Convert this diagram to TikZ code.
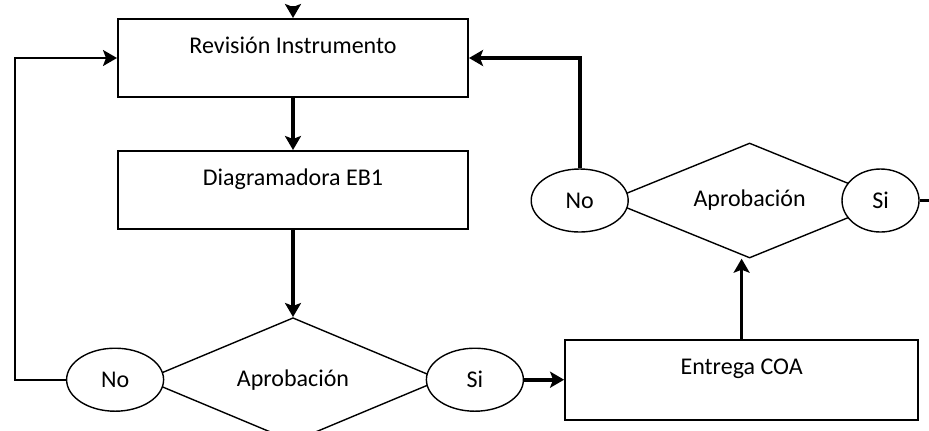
\documentclass[tikz,border=0pt]{standalone}
\usepackage{fontspec}
\setmainfont{Carlito}
\usetikzlibrary{arrows.meta, shapes.geometric, positioning}
\tikzset{
  box/.style={draw, line width=1pt, minimum width=175pt, minimum height=39pt, text height=9pt, text depth=14pt, inner sep=0pt},
  decision/.style={draw, diamond, line width=0.7pt, aspect=2.4, minimum width=148pt, minimum height=62pt, inner sep=0pt},
  answer/.style={draw, ellipse, fill=white, line width=0.7pt, minimum width=48.5pt, minimum height=31.5pt, inner sep=0pt},
  flow/.style={->, line width=1.8pt}
}

\begin{document}
\begin{tikzpicture}[>={Stealth[length=7pt, width=8pt, inset=1.5pt]}, x=0.5pt, y=-0.5pt, every node/.style={font=\fontsize{12}{14}\selectfont}]
\useasboundingbox (0,0) rectangle (929,430);
\node[box] (rev) at (293,58) {Revisión Instrumento};
\node[box, below=26pt of rev] (diag) {Diagramadora EB1};
\node[decision, below=43.5pt of diag] (dec1) {Aprobación};
\node[answer, left=-10pt of dec1] (no1) {No};
\node[answer, right=-8pt of dec1] (si1) {Si};
\node[box, right=20pt of si1, minimum width=176.5pt, minimum height=40pt] (coa) {Entrega COA};
\node[decision, above=40pt of coa, xshift=4pt, minimum width=141pt, minimum height=57.5pt] (dec2) {Aprobación};
\node[answer, left=-10.5pt of dec2] (no2) {No};
\node[answer, right=-25pt of dec2, minimum width=38.5pt] (si2) {Si};
\coordinate (top) at (293,6);

\draw [flow] (top) -- (rev.north);
\draw [flow] (rev) -- (diag);
\draw [flow] (diag) -- (dec1.north);
\draw [flow] (si1.east) -- (si1.east -| coa.west);
\draw [flow] (coa.north) -- (coa.north |- dec2.south);
\draw [flow] (si2.east) -- ++(26,0);
\draw [->, line width=1pt] (no1.west) -- ++(-51,0) |- (rev.west);
\draw [flow] (no2.north) |- (rev.east);
\end{tikzpicture}
\end{document}
